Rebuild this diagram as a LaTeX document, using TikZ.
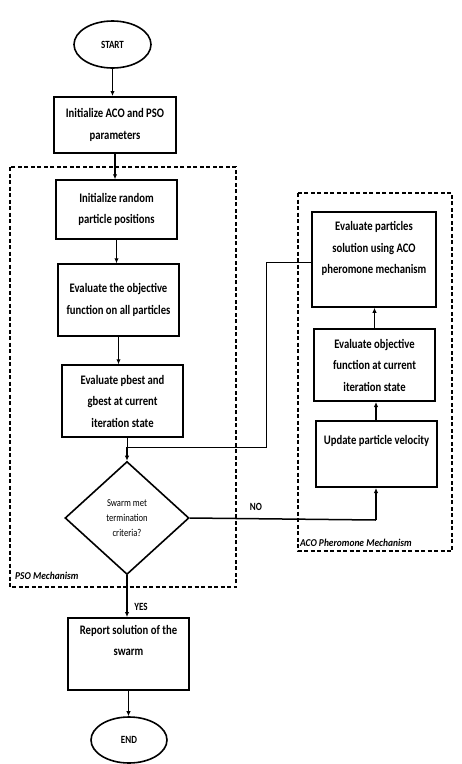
\documentclass[tikz,border=0pt]{standalone}
\usepackage{fontspec}
\setmainfont{Carlito}
\newfontfamily\narrowfont[FakeStretch=0.82]{Carlito}
\newfontfamily\semifont[FakeStretch=0.9]{Carlito}
\usetikzlibrary{shapes.geometric,arrows.meta}

\tikzset{
  box/.style={draw, line width=1.5pt, rectangle, align=center, inner sep=2pt,
    font=\narrowfont\fontsize{13}{21.5}\selectfont\bfseries},
  thickbox/.style={box, line width=2pt},
  term/.style={draw, ellipse, line width=1.6pt, inner sep=0pt,
    font=\narrowfont\fontsize{11}{12}\selectfont\bfseries},
  decision/.style={draw, diamond, line width=1.6pt, inner sep=0pt, align=center,
    font=\narrowfont\fontsize{10.5}{15}\selectfont},
  group/.style={draw, dashed, dash pattern=on 4pt off 2.5pt, line width=1.4pt},
  grouplabel/.style={font=\semifont\fontsize{10.5}{12}\selectfont\bfseries\itshape,
    anchor=west, inner sep=0pt},
  flow/.style={line width=1.5pt, -{Latex[length=5pt,width=4.5pt]}},
  link/.style={line width=1.5pt},
  thinlink/.style={line width=1pt},
  branch/.style={font=\narrowfont\fontsize{11}{12}\selectfont\bfseries, inner sep=0pt}
}

\begin{document}
\begin{tikzpicture}[x=1pt, y=-1pt]
  \useasboundingbox (0,0) rectangle (462,764);
  \fill[white] (0,0) rectangle (462,764);

  % dashed frames of the two mechanisms
  \draw[group] (10,167) rectangle (236,587);
  \draw[group] (298,193) rectangle (452,551);
  \node[grouplabel] (psolabel) at (15,576) {PSO Mechanism};
  \node[grouplabel] (acolabel) at (300,543) {ACO Pheromone Mechanism};

  % main column
  \node[term, minimum width=77pt, minimum height=47pt] (start) at (112.5,44.5) {START};
  \node[thickbox, minimum width=122pt, minimum height=56pt] (init) at (115,125)
    {Initialize ACO and PSO\\parameters};
  \node[box, minimum width=121pt, minimum height=59pt] (rand) at (116.5,209.5)
    {Initialize random\\particle positions};
  \node[box, minimum width=121pt, minimum height=72pt] (objf) at (118.5,300)
    {Evaluate the objective\\function on all particles};
  \node[box, minimum width=121pt, minimum height=72pt] (best) at (122.5,401)
    {Evaluate pbest and\\gbest at current\\iteration state};
  \node[decision, minimum width=124pt, minimum height=113pt] (dia) at (127,518)
    {Swarm met\\termination\\criteria?};
  \node[thickbox, minimum width=121pt, minimum height=72pt] (report) at (128.5,654)
    {Report solution of the\\swarm\\[6pt]};
  \node[term, minimum width=76pt, minimum height=46pt] (end) at (129,740) {END};

  % ACO column
  \node[box, minimum width=124pt, minimum height=95pt] (eval) at (374,259.5)
    {Evaluate particles\\solution using ACO\\pheromone mechanism\\[2pt]};
  \node[thickbox, minimum width=121pt, minimum height=72pt] (evobj) at (374.5,365)
    {Evaluate objective\\function at current\\iteration state};
  \node[thickbox, minimum width=121pt, minimum height=66pt] (upd) at (376.5,454)
    {Update particle velocity\\[6pt]};

  \coordinate (junction) at (127,447);
  \coordinate (back) at (266,262);
  \coordinate (nocorner) at (376,520);

  % connectors
  \draw[flow] (start.south) -- (start.south |- init.north);
  \draw[flow] (init.south) -- (init.south |- rand.north);
  \draw[flow] (rand.south) -- (rand.south |- objf.north);
  \draw[flow] (objf.south) -- (objf.south |- best.north);
  \draw[thinlink] (best.south -| junction) -- (junction);
  \draw[flow] (junction) -- (dia.north);
  \draw[thinlink] (eval.west |- back) -- (back) -- (back |- junction) -- (junction);
  \draw[link] (dia.east) -- (nocorner);
  \draw[flow] (nocorner) -- (nocorner |- upd.south);
  \draw[flow] (upd.north -| nocorner) -- (nocorner |- evobj.south);
  \draw[flow] (evobj.north) -- (evobj.north |- eval.south);
  \draw[flow] (dia.south) -- (dia.south |- report.north);
  \draw[flow] (report.south) -- (report.south |- end.north);

  \node[branch] (nolabel) at (256,507) {NO};
  \node[branch] (yeslabel) at (141,607) {YES};
\end{tikzpicture}
\end{document}
